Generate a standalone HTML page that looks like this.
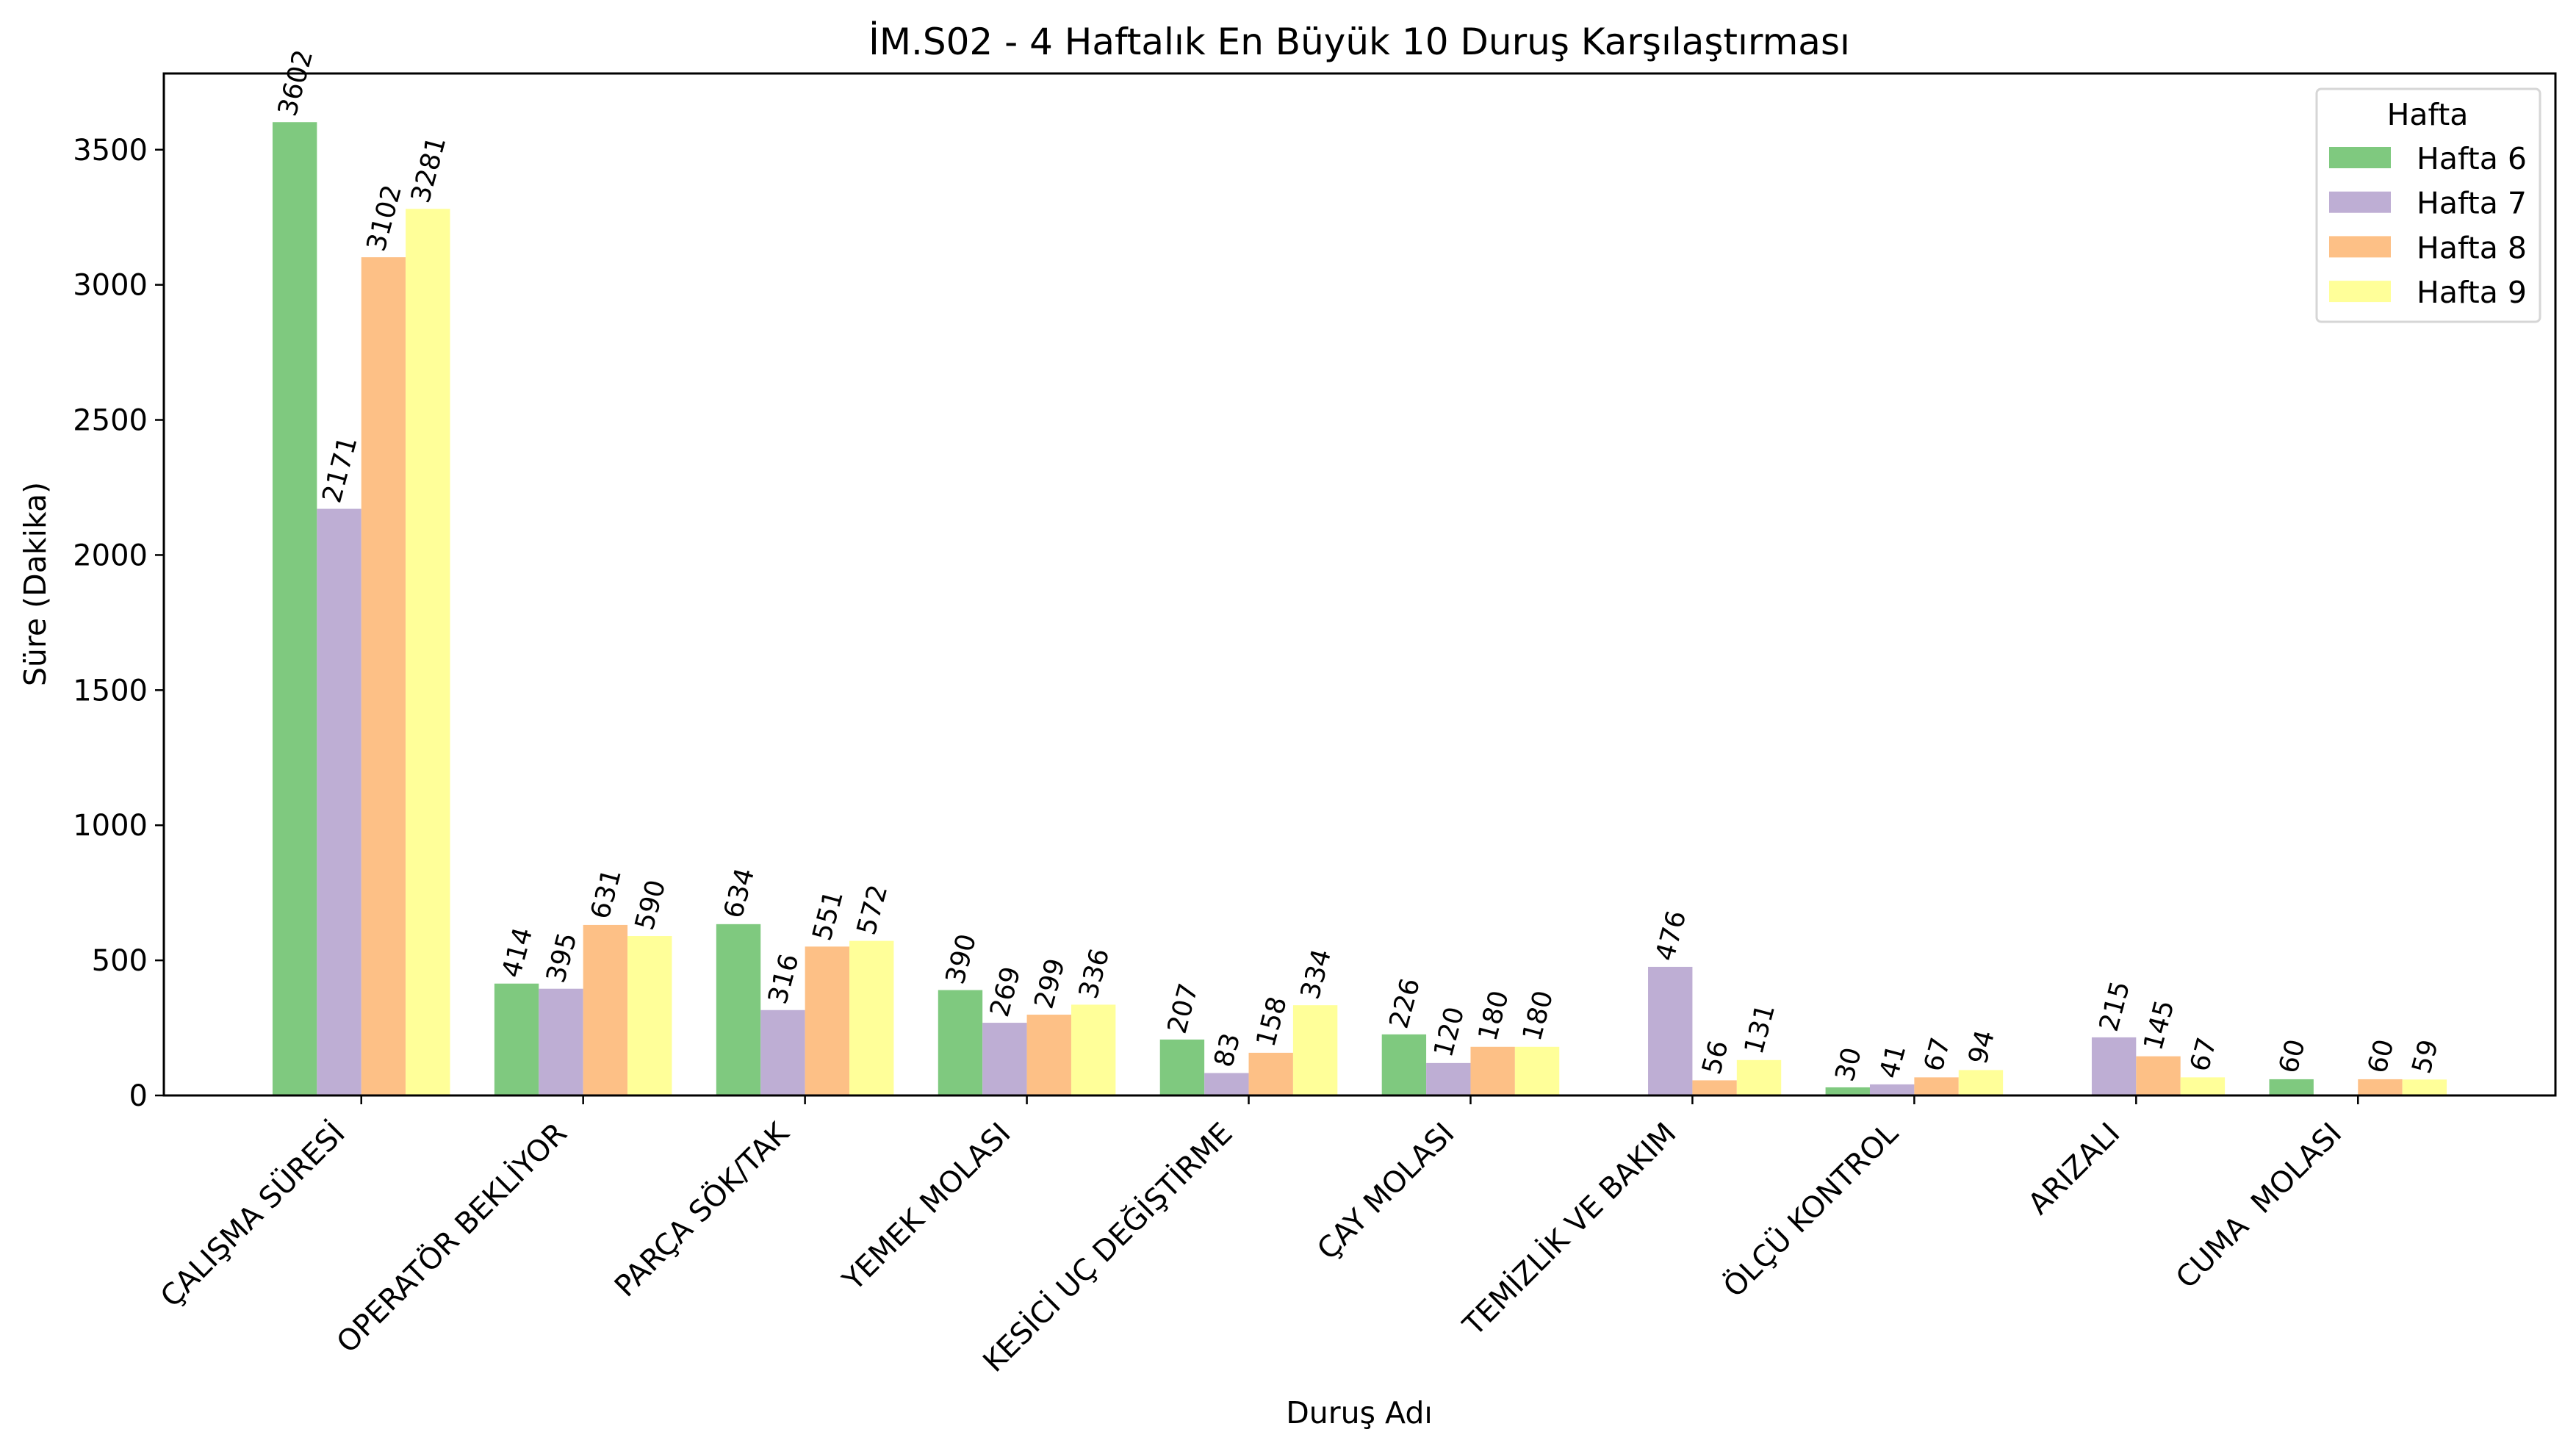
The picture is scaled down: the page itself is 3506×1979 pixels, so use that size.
<!DOCTYPE html>
<html><head><meta charset="utf-8"><style>
html,body{margin:0;padding:0;background:#fff;}
svg{display:block;font-family:"DejaVu Sans","Liberation Sans",sans-serif;}
</style></head><body>
<svg id="chart" width="3506" height="1979" viewBox="0 0 3506 1979" xmlns="http://www.w3.org/2000/svg">
<rect width="3506" height="1979" fill="#fff"/>
<text x="1850" y="74" font-size="50" text-anchor="middle">İM.S02 - 4 Haftalık En Büyük 10 Duruş Karşılaştırması</text>
<g id="plot"></g>
<text x="1850" y="1937" font-size="41" text-anchor="middle">Duruş Adı</text>
<text transform="translate(62,795) rotate(-90)" font-size="41" text-anchor="middle">Süre (Dakika)</text>
<g>
<rect x="3153" y="121" width="304" height="317" rx="6" fill="#fff" stroke="#d6d6d6" stroke-width="3"/>
<text x="3304" y="170" font-size="41" text-anchor="middle">Hafta</text>
<g id="legend-items"></g>
</g>
</svg>
<script>
const categories = ["ÇALIŞMA SÜRESİ","OPERATÖR BEKLİYOR","PARÇA SÖK/TAK","YEMEK MOLASI","KESİCİ UÇ DEĞİŞTİRME","ÇAY MOLASI","TEMİZLİK VE BAKIM","ÖLÇÜ KONTROL","ARIZALI","CUMA  MOLASI"];
const seriesNames = ["Hafta 6","Hafta 7","Hafta 8","Hafta 9"];
const hafta6 = [3602,414,634,390,207,226,null,30,null,60];
const hafta7 = [2171,395,316,269,83,120,476,41,215,null];
const hafta8 = [3102,631,551,299,158,180,56,67,145,60];
const hafta9 = [3281,590,572,336,334,180,131,94,67,59];
const yTicks = [0,500,1000,1500,2000,2500,3000,3500];
const colors = ["#7fc97f","#beaed4","#fdc086","#ffff99"];

const NS="http://www.w3.org/2000/svg";
const L=223,R=3478,T=100,B=1491;
const series=[hafta6,hafta7,hafta8,hafta9];
let ymax=0;series.forEach(s=>s.forEach(v=>{if(v!=null&&v>ymax)ymax=v;}));
ymax*=1.05;
const xmin=-0.89,xmax=categories.length-1+0.89;
const xs=v=>L+(v-xmin)/(xmax-xmin)*(R-L);
const ys=v=>B-v/ymax*(B-T);
const plot=document.getElementById('plot');
function mk(tag,attrs,parent){const e=document.createElementNS(NS,tag);for(const k in attrs)e.setAttribute(k,attrs[k]);(parent||plot).appendChild(e);return e;}

const bw=0.2;
series.forEach((s,si)=>{
  s.forEach((v,ci)=>{
    if(v==null)return;
    const off=(si-1.5)*bw;
    const x0=xs(ci+off-bw/2),x1=xs(ci+off+bw/2);
    const r=mk('rect',{x:x0,y:ys(v),width:x1-x0,height:B-ys(v),fill:colors[si]});
    
    
  });
});
series.forEach((s,si)=>{
  s.forEach((v,ci)=>{
    if(v==null)return;
    const off=(si-1.5)*bw;
    const cx=xs(ci+off);
    const t=mk('text',{'font-size':36,'text-anchor':'middle'});
    t.textContent=String(v);
    
    
    const len=t.getComputedTextLength();
    const a=75*Math.PI/180;
    const vext=len*Math.sin(a)+26*Math.cos(a);
    const cy=ys(v)-6-vext/2;
    t.setAttribute('transform','translate('+cx+','+cy+') rotate(-75)');
    t.setAttribute('y',13);
  });
});
const frame=mk('rect',{x:L,y:T,width:R-L,height:B-T,fill:'none',stroke:'#000','stroke-width':3});


yTicks.forEach(v=>{
  const y=ys(v);
  mk('line',{x1:L-12,x2:L,y1:y,y2:y,stroke:'#000','stroke-width':2.5});
  const t=mk('text',{x:L-22,y:y+14,'font-size':40,'text-anchor':'end'});
  t.textContent=String(v);
  
  
});
categories.forEach((c,i)=>{
  const x=xs(i);
  mk('line',{x1:x,x2:x,y1:B,y2:B+12,stroke:'#000','stroke-width':2.5});
  const t=mk('text',{'font-size':40,'text-anchor':'end',style:'white-space:pre',transform:'translate('+(x-20)+','+(1545)+') rotate(-45)'});
  t.textContent=c;
  
  
});
const lg=document.getElementById('legend-items');
seriesNames.forEach((n,i)=>{
  const y=230+i*60.7;
  const r=mk('rect',{x:3170,y:y-30,width:84,height:29,fill:colors[i]},lg);
  
  
  const t=mk('text',{x:3289,y:y,'font-size':41},lg);
  t.textContent=n;
  
  
});
</script>
</body></html>
